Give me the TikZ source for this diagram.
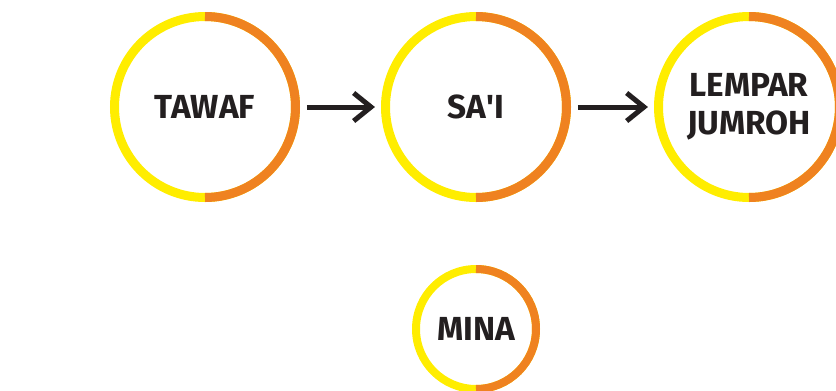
\documentclass[tikz,border=0pt]{standalone}
\usepackage{fontspec}
\setmainfont{Fira Sans}
\usetikzlibrary{arrows.meta}
\definecolor{ringyellow}{RGB}{255,237,0}
\definecolor{ringorange}{RGB}{239,130,32}
\definecolor{inkgray}{RGB}{35,31,32}

\begin{document}
\begin{tikzpicture}[x=0.75pt,y=0.75pt,yscale=-1,xscale=1,
    stage/.style={circle, draw=ringyellow, line width=6.75pt, outer sep=0pt, inner sep=0pt,
      minimum size=135.75pt, text=inkgray, align=center,
      font=\bfseries\fontsize{25}{28.5}\selectfont},
    halfring/.style={draw=ringorange, line width=6.75pt},
    flow/.style={draw=inkgray, line width=3.75pt, shorten <=8.6pt, shorten >=7.9pt,
      -{Straight Barb[length=13pt,width=21pt]}}]
    \useasboundingbox (0,0) rectangle (836,390);

    % stages, top row
    \node [stage] (tawaf) at (205,107) {TAWAF};
    \node [stage] (sai) at (476,107) {SA\textquotesingle I};
    \node [stage] (lempar) at (749,107) {LEMPAR\\JUMROH};
    % stage below
    \node [stage, line width=6pt, minimum size=90pt] (mina) at (476,329) {MINA};

    % orange right halves
    \draw [halfring] (tawaf.north) arc [start angle=-90, end angle=90, radius=90.5];
    \draw [halfring] (sai.north) arc [start angle=-90, end angle=90, radius=90.5];
    \draw [halfring] (lempar.north) arc [start angle=-90, end angle=90, radius=90.5];
    \draw [halfring, line width=6pt] (mina.north) arc [start angle=-90, end angle=90, radius=60];

    % arrows
    \draw [flow] (tawaf) -- (sai);
    \draw [flow] (sai) -- (lempar);

\end{tikzpicture}
\end{document}
